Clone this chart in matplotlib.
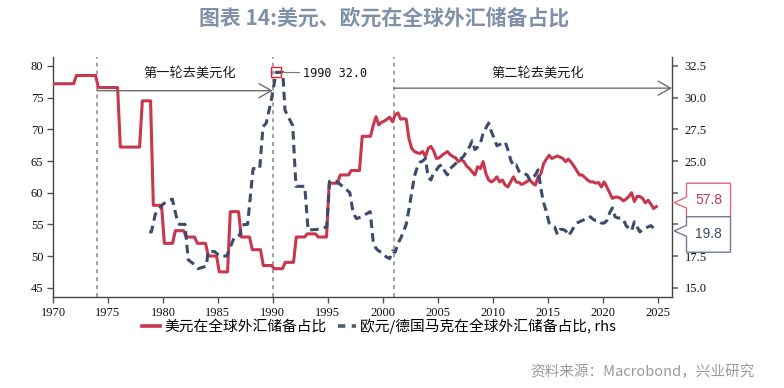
import numpy as np
import matplotlib
matplotlib.use("Agg")
import matplotlib.pyplot as plt
from matplotlib.patches import Polygon
from matplotlib.lines import Line2D

plt.rcParams['font.family'] = ['Noto Sans CJK SC', 'DejaVu Sans']

# ---------------- data ----------------
title = "图表 14:美元、欧元在全球外汇储备占比"
usd_label = "美元在全球外汇储备占比"
eur_label = "欧元/德国马克在全球外汇储备占比, rhs"
source_text = "资料来源：Macrobond，兴业研究"
wave1_text = "第一轮去美元化"
wave2_text = "第二轮去美元化"

# USD share (left axis): annual data 1970-1998, quarterly 1999Q1-2024Q4
usd_annual_years = list(range(1970, 1999))
usd_annual = [77.2, 77.2, 78.5, 78.5, 76.6, 76.6, 67.2, 67.2, 74.5, 58.0,
              52.0, 54.0, 53.0, 52.0, 50.0, 47.5, 57.0, 53.0, 51.0, 48.5,
              48.0, 49.0, 53.0, 53.5, 53.0, 61.5, 62.8, 63.5, 68.9]
usd_q_start = 1999
usd_quarterly = [
    70.6, 72.0, 70.7, 71.1,   # 1999
    71.3, 71.6, 71.9, 71.2,   # 2000
    72.3, 72.6, 71.6, 71.7,   # 2001
    71.6, 68.5, 67.0, 66.5,   # 2002
    66.3, 66.2, 66.5, 65.7,   # 2003
    67.0, 67.3, 66.6, 65.4,   # 2004
    65.5, 65.9, 66.2, 66.5,   # 2005
    66.0, 65.7, 65.5, 64.9,   # 2006
    65.2, 64.9, 64.2, 63.8,   # 2007
    63.3, 62.8, 64.1, 63.8,   # 2008
    64.9, 63.0, 62.0, 61.7,   # 2009
    62.0, 62.5, 61.7, 62.0,   # 2010
    61.2, 60.9, 61.7, 62.5,   # 2011
    61.7, 61.6, 61.3, 61.5,   # 2012
    61.8, 62.0, 61.5, 61.2,   # 2013
    62.5, 63.0, 64.6, 65.3,   # 2014
    65.9, 65.4, 65.6, 65.8,   # 2015
    65.6, 65.4, 64.9, 65.3,   # 2016
    64.8, 64.2, 63.5, 62.8,   # 2017
    62.8, 62.4, 62.0, 61.7,   # 2018
    61.7, 61.5, 61.6, 60.9,   # 2019
    61.7, 60.9, 60.0, 59.1,   # 2020
    59.3, 59.3, 59.1, 58.7,   # 2021
    59.0, 59.4, 60.0, 58.6,   # 2022
    59.4, 59.4, 59.1, 58.4,   # 2023
    58.8, 58.2, 57.5, 57.8,   # 2024
]

# DEM share (right axis), observations 1978-1998
dem_years = [1978.75, 1978.95, 1979.3, 1980.0, 1980.85, 1981.3, 1981.5, 1982.0,
             1982.3, 1982.9, 1983.2, 1983.95, 1984.1, 1984.7, 1985.15, 1985.8,
             1986.5, 1987.0, 1987.1, 1987.7, 1988.2, 1988.8, 1989.1, 1989.4,
             1989.85, 1990.3, 1990.9, 1991.1, 1991.8, 1992.1, 1992.9, 1993.2,
             1994.0, 1994.9, 1995.15, 1995.75, 1996.35, 1997.0, 1997.3, 1997.6,
             1998.05, 1998.85]
dem_share = [19.4, 19.4, 20.8, 21.6, 22.0, 20.3, 20.0, 20.0,
             17.2, 16.8, 16.5, 16.7, 17.85, 17.85, 17.5, 17.5,
             19.0, 19.15, 19.95, 20.0, 24.4, 24.4, 27.7, 28.0,
             29.8, 32.0, 32.0, 29.0, 27.8, 23.0, 23.0, 19.55,
             19.6, 19.8, 23.4, 23.4, 23.0, 22.5, 20.9, 20.45,
             20.6, 21.0]
# EUR share (right axis), quarterly 1999Q1-2024Q4
eur_q_start = 1999
eur_quarterly = [
    18.6, 18.1, 17.9, 17.8,   # 1999
    17.55, 17.4, 17.3, 17.9,  # 2000
    17.8, 18.5, 18.9, 19.4,   # 2001
    20.0, 21.2, 22.5, 23.8,   # 2002
    24.5, 24.9, 25.0, 25.2,   # 2003
    23.7, 23.5, 24.1, 24.3,   # 2004
    24.6, 24.7, 24.2, 23.9,   # 2005
    24.4, 24.6, 24.8, 25.1,   # 2006
    25.2, 25.4, 25.8, 26.1,   # 2007
    26.6, 25.9, 26.1, 26.4,   # 2008
    27.2, 27.6, 28.0, 27.3,   # 2009
    26.8, 26.2, 26.3, 26.4,   # 2010
    26.5, 25.9, 25.1, 24.6,   # 2011
    24.7, 24.2, 24.0, 24.0,   # 2012
    23.9, 23.5, 23.7, 23.9,   # 2013
    24.3, 22.8, 21.7, 21.0,   # 2014
    20.1, 19.9, 19.8, 19.2,   # 2015
    19.6, 19.6, 19.5, 19.1,   # 2016
    19.4, 19.8, 20.1, 20.2,   # 2017
    20.3, 20.4, 20.4, 20.6,   # 2018
    20.4, 20.3, 20.3, 20.1,   # 2019
    20.1, 20.3, 20.9, 21.3,   # 2020
    20.6, 20.5, 20.5, 20.4,   # 2021
    19.9, 19.7, 19.5, 20.2,   # 2022
    19.8, 19.4, 19.6, 19.7,   # 2023
    19.8, 19.9, 19.7, 19.8,   # 2024
]

xticks = list(range(1970, 2026, 5))
left_ticks = [45, 50, 55, 60, 65, 70, 75, 80]
right_ticks = [15.0, 17.5, 20.0, 22.5, 25.0, 27.5, 30.0, 32.5]
wave_marks = [1974, 1990, 2001]

# ---------------- series construction ----------------
qoff = np.array([0.125, 0.375, 0.625, 0.875])
usd_x = np.concatenate([
    (np.array(usd_annual_years)[:, None] + qoff[None, :]).ravel(),
    usd_q_start + np.arange(len(usd_quarterly)) * 0.25 + 0.125])
usd_y = np.concatenate([np.repeat(usd_annual, 4), usd_quarterly])

eur_x = np.concatenate([dem_years,
                        eur_q_start + np.arange(len(eur_quarterly)) * 0.25 + 0.125])
eur_y = np.concatenate([dem_share, eur_quarterly])

# ---------------- figure ----------------
W, H = 784, 388
fig = plt.figure(figsize=(W / 100, H / 100), dpi=100)
ax = fig.add_axes([53 / W, (H - 297) / H, (672 - 53) / W, (297 - 57) / H])
ax2 = ax.twinx()

RED = '#c8374d'
NAVY = '#3b4c6b'
SPINE = '#444444'

xmax = 2026.3
ax.set_xlim(1970, xmax)
ax.set_ylim(43.53, 81.42)
ax2.set_ylim(43.53 / 2 - 7.5, 81.42 / 2 - 7.5)

ax.plot(usd_x, usd_y, color=RED, lw=2.2, zorder=3, solid_joinstyle='round')
ax2.plot(eur_x, eur_y, color=NAVY, lw=2.2, dashes=(2.8, 1.7), zorder=3)

for xv in wave_marks:
    ax.axvline(xv, color='#999999', lw=1.3, ls=(0, (2.2, 2.2)), zorder=1)

arrow_kw = dict(arrowstyle='->,head_length=0.75,head_width=0.42', color='#6e6e6e',
                lw=1.0, shrinkA=0, shrinkB=0, mutation_scale=12)
ax.annotate('', xy=(wave_marks[1], 76.1), xytext=(wave_marks[0], 76.1), arrowprops=arrow_kw)
ax.annotate('', xy=(xmax, 76.5), xytext=(wave_marks[2], 76.5), arrowprops=arrow_kw,
            annotation_clip=False)
ax.text(1982.4, 78.9, wave1_text, ha='center', va='center', fontsize=9.5, color='#1a1a1a')
ax.text(2014.1, 78.9, wave2_text, ha='center', va='center', fontsize=9.5, color='#1a1a1a')

# max point of DEM share
imax = int(np.argmax(dem_share))
mx, my = dem_years[imax], dem_share[imax]
ax2.plot([mx], [my], marker='s', ms=7, mfc='none', mec='#e8202a', mew=1.0, zorder=5)
ax2.annotate(f"{int(mx)} {my:.1f}", xy=(mx, my), xytext=(19, -0.5),
             textcoords='offset points', ha='left', va='center', fontsize=8.5,
             family=['DejaVu Sans Mono'], color='#111111',
             arrowprops=dict(arrowstyle='-', color='#777777', lw=0.8,
                             shrinkA=0, shrinkB=4))

# axes styling
for a in (ax, ax2):
    a.spines['top'].set_visible(False)
ax.spines['right'].set_visible(False)
ax2.spines['left'].set_visible(False)
ax2.spines['bottom'].set_visible(False)
for s in ('left', 'bottom'):
    ax.spines[s].set_color(SPINE)
    ax.spines[s].set_linewidth(1.0)
ax2.spines['right'].set_color(SPINE)
ax2.spines['right'].set_linewidth(1.0)

ax.set_xticks(xticks)
ax.set_yticks(left_ticks)
ax2.set_yticks(right_ticks)
tickfont = ['Liberation Serif']
ax.tick_params(axis='both', direction='out', length=4.5, width=1.0, color='#555555',
               pad=2.5, labelcolor='#111111')
ax2.tick_params(axis='y', direction='out', length=4.5, width=1.2, color='#666666',
                pad=4.5, labelcolor='#111111')

# ---------------- callouts ----------------
fig.canvas.draw()
spine_x = ax.transAxes.transform((1, 0))[0]
tip_red = ax.transData.transform((usd_x[-1], usd_y[-1]))[1]
tip_blue = ax2.transData.transform((eur_x[-1], eur_y[-1]))[1]
mid = (tip_red + tip_blue) / 2.0
box_top = mid + 33.5
box_bot = mid - 35.5

# right tick labels hidden behind the callout boxes are left blank
rlabels = []
for t in right_ticks:
    ty = ax2.transData.transform((0, t))[1]
    covered = (box_bot + 2) < ty < (box_top + 4)
    rlabels.append('' if covered else f"{t:.1f}")
ax2.set_yticklabels(rlabels)

for lab in ax.get_xticklabels() + ax.get_yticklabels() + ax2.get_yticklabels():
    lab.set_family(tickfont)
    lab.set_fontsize(9)

inv = fig.transFigure.inverted()


def callout(tip_y, y0, y1, edge, tcolor, text):
    x0 = spine_x + 14.5
    x1 = x0 + 44
    tx = spine_x + 2.3
    lo, hi = min(y0, y1), max(y0, y1)
    nb_lo = max(lo + 1, tip_y - 5.5)
    nb_hi = min(hi - 1, tip_y + 5.5)
    pts = [(x0, lo), (x1, lo), (x1, hi), (x0, hi), (x0, nb_hi), (tx, tip_y), (x0, nb_lo)]
    pts = inv.transform(pts)
    fig.patches.append(Polygon(pts, closed=True, transform=fig.transFigure,
                               facecolor='white', edgecolor=edge, lw=1.0, zorder=10))
    cx, cy = inv.transform(((x0 + x1) / 2, (lo + hi) / 2))
    fig.text(cx, cy, text, ha='center', va='center', color=tcolor, fontsize=10,
             family=['Liberation Sans'], zorder=11)


callout(tip_red + 4, mid, box_top, '#e06a7a', RED, f"{usd_y[-1]:.1f}")
callout(tip_blue - 4, box_bot, mid, '#6f7d98', NAVY, f"{eur_y[-1]:.1f}")

# ---------------- legend, title, source ----------------
handles = [Line2D([], [], color=RED, lw=2.6),
           Line2D([], [], color='#4a5a78', lw=2.6, dashes=(2.0, 1.8))]
fig.legend(handles, [usd_label, eur_label], loc='center',
           bbox_to_anchor=(379 / W, 1 - 326 / H), ncol=2, frameon=False,
           fontsize=10.6, handlelength=1.2, handletextpad=0.3, columnspacing=0.8)

fig.text(384 / W, 1 - 18 / H, title, ha='center', va='center', fontsize=15,
         fontweight='bold', color='#8090a8')
fig.text(755 / W, 1 - 372 / H, source_text, ha='right', va='center', fontsize=10.5,
         color='#9a9a9a')

fig.savefig('out.png', dpi=100)
